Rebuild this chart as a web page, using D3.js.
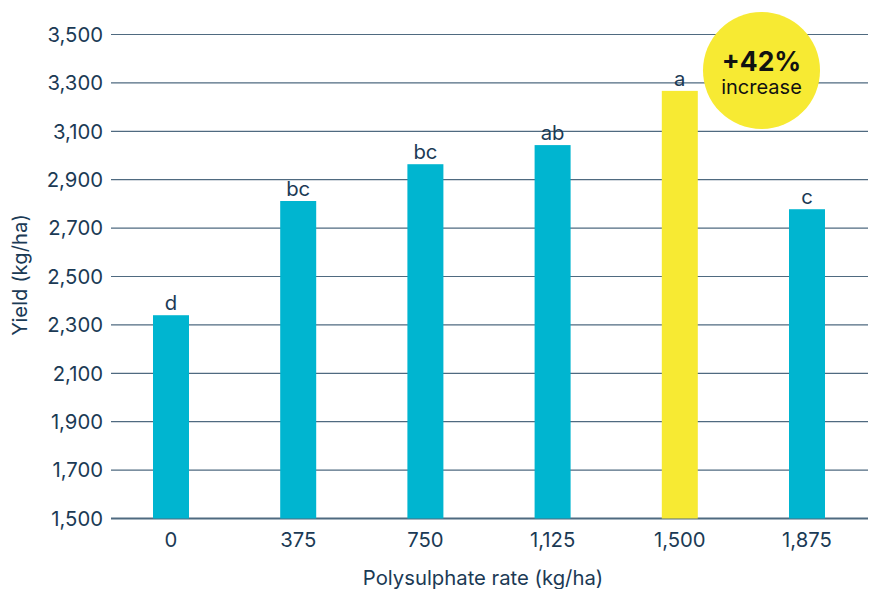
<!DOCTYPE html>
<html><head><meta charset="utf-8">
<script src="https://cdn.jsdelivr.net/npm/d3@7"></script>
<style>body{margin:0;background:#fff}svg{display:block}text{font-family:Inter,"Noto Sans",sans-serif}</style>
</head><body>
<svg id="c" width="870" height="589"></svg>
<script>
const categories = ["0","375","750","1,125","1,500","1,875"];
const yields = [2340, 2812, 2964, 3043, 3267, 2778];
const letters = ["d","bc","bc","ab","a","c"];
const highlight = [false,false,false,false,true,false];
const yTicks = [1500,1700,1900,2100,2300,2500,2700,2900,3100,3300,3500];
const badgeMain = "+42%";
const badgeSub = "increase";

const ink = "#1b3a55", teal = "#00b5d0", yellow = "#f7ea33", grid = "#4f6a80";
const fs = 20.3;
const svg = d3.select("#c");
const x = d3.scalePoint().domain(categories).range([171, 807]);
const y = d3.scaleLinear().domain([1500, 3500]).range([518.5, 34.5]);
const bw = 36;

svg.append("g").selectAll("line").data(yTicks).join("line")
  .attr("x1", 111).attr("x2", 868)
  .attr("y1", d => y(d)).attr("y2", d => y(d))
  .attr("stroke", grid).attr("stroke-width", d => d === 1500 ? 1.8 : 1.2);

svg.append("g").selectAll("text").data(yTicks).join("text")
  .attr("x", 103).attr("y", d => y(d)).attr("dy", "0.36em")
  .attr("text-anchor", "end").attr("font-size", fs).attr("fill", ink)
  .text(d => d3.format(",")(d));

svg.append("g").selectAll("rect").data(yields).join("rect")
  .attr("x", (d, i) => x(categories[i]) - bw / 2)
  .attr("y", d => y(d)).attr("width", bw)
  .attr("height", d => y(1500) - y(d))
  .attr("fill", (d, i) => highlight[i] ? yellow : teal);

svg.append("g").selectAll("text").data(yields).join("text")
  .attr("x", (d, i) => x(categories[i])).attr("y", d => y(d) - 5)
  .attr("text-anchor", "middle").attr("font-size", fs).attr("fill", ink)
  .text((d, i) => letters[i]);

svg.append("g").selectAll("text").data(categories).join("text")
  .attr("x", d => x(d)).attr("y", 547)
  .attr("text-anchor", "middle").attr("font-size", fs).attr("fill", ink)
  .text(d => d);

svg.append("text").attr("x", 483).attr("y", 585).attr("text-anchor", "middle")
  .attr("font-size", fs).attr("fill", ink).text("Polysulphate rate (kg/ha)");
svg.append("text").attr("transform", "translate(27,275) rotate(-90)")
  .attr("text-anchor", "middle").attr("font-size", fs).attr("fill", ink).text("Yield (kg/ha)");

const b = svg.append("g").attr("transform", "translate(761.5,70.5)");
b.append("circle").attr("r", 58.5).attr("fill", yellow);
b.append("text").attr("y", 0).attr("text-anchor", "middle").attr("font-size", 26.5)
  .attr("font-weight", 700).attr("fill", "#111").text(badgeMain);
b.append("text").attr("y", 23).attr("text-anchor", "middle").attr("font-size", 20)
  .attr("fill", "#111").text(badgeSub);
</script>
</body></html>
